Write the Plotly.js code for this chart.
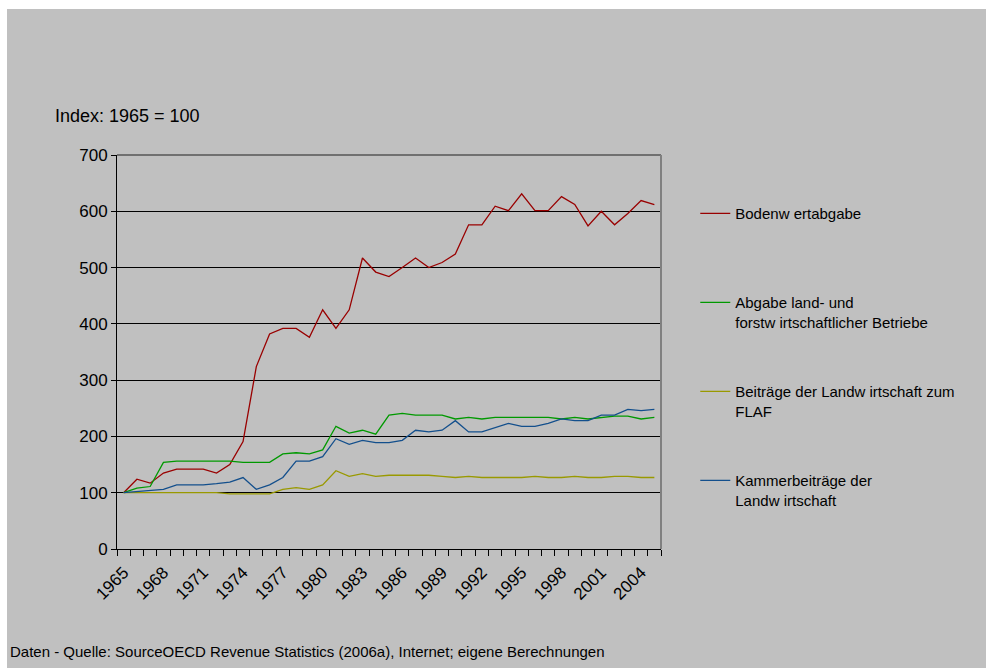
<!DOCTYPE html>
<html>
<head>
<meta charset="utf-8">
<script src="https://cdn.plot.ly/plotly-3.0.1.min.js"></script>
<style>
html,body{margin:0;padding:0;background:#ffffff;width:986px;height:668px;overflow:hidden;}
#chart{position:absolute;left:7px;top:9px;width:979px;height:659px;}
</style>
</head>
<body>
<div id="chart"></div>
<script>
const years = [];
for (let y = 1965; y <= 2005; y++) years.push(y);

const tickYears = [1965, 1968, 1971, 1974, 1977, 1980, 1983, 1986, 1989, 1992, 1995, 1998, 2001, 2004];
const tickLabels = ["1965","1968","1971","1974","1977","1980","1983","1986","1989","1992","1995","1998","2001","2004"];

const bodenwertabgabe = [100,124,117,135,142,142,142,135,150,191,324,382,392,392,376,425,392,425,517,492,
  484,500,517,500,509,524,576,576,609,601,631,601,601,626,612,574,600,576,596,619,612];
const abgabeLuF = [100,108,111,154,156,156,156,156,156,154,154,154,169,171,169,176,218,206,211,204,
  238,241,238,238,238,231,234,231,234,234,234,234,234,231,234,231,234,236,236,231,234];
const beitraegeFLAF = [100,100,100,100,100,100,100,100,98,98,98,98,106,109,106,114,139,129,134,129,
  131,131,131,131,129,127,129,127,127,127,127,129,127,127,129,127,127,129,129,127,127];
const kammerbeitraege = [100,102,104,106,114,114,114,116,119,127,106,114,127,156,156,164,196,186,193,189,
  189,193,211,208,211,228,208,208,216,223,218,218,223,231,228,228,238,238,248,246,248];

const names = ["Bodenw ertabgabe<br> ", "Abgabe land- und<br>forstw irtschaftlicher Betriebe",
  "Beiträge der Landw irtschaft zum<br>FLAF", "Kammerbeiträge der<br>Landw irtschaft"];
const series = [bodenwertabgabe, abgabeLuF, beitraegeFLAF, kammerbeitraege];
const colors = ["#990000", "#009900", "#999900", "#134f8c"];

const traces = series.map((s, i) => ({
  x: years, y: s, type: "scatter", mode: "lines", name: names[i],
  legendgroup: "g" + i,
  line: {color: colors[i], width: 1.3}
}));

const layout = {
  width: 979, height: 659,
  paper_bgcolor: "#c0c0c0", plot_bgcolor: "#c0c0c0",
  margin: {l: 110, r: 325, t: 146, b: 119},
  font: {family: "Liberation Sans, Arial, sans-serif", color: "#000000", size: 17},
  showlegend: true,
  legend: {
    x: 1.063, xanchor: "left", y: 0.893, yanchor: "top",
    bgcolor: "rgba(0,0,0,0)", font: {size: 15, color: "#000000"},
    tracegroupgap: 47, valign: "top"
  },
  xaxis: {
    range: [1964.5, 2005.5], tickmode: "array", tickvals: tickYears, ticktext: tickLabels,
    tickangle: -45, ticks: "", showgrid: false, zeroline: false,
    showline: true, linecolor: "#000000", linewidth: 1,
    tickfont: {size: 17}, ticklabelstandoff: 6,
    minor: {tick0: 1964.5, dtick: 1, ticks: "outside", ticklen: 6, tickcolor: "#000000", showgrid: false}
  },
  yaxis: {
    range: [0, 700], dtick: 100, ticks: "outside", ticklen: 5, tickcolor: "#000000",
    showgrid: true, gridcolor: "#000000", gridwidth: 1, zeroline: false,
    showline: true, linecolor: "#000000", linewidth: 1, tickfont: {size: 17}
  },
  shapes: [
    {type: "line", xref: "paper", yref: "paper", x0: 0, x1: 1, y0: 1, y1: 1, line: {color: "#707070", width: 2}},
    {type: "line", xref: "paper", yref: "paper", x0: 1, x1: 1, y0: 0, y1: 1, line: {color: "#808080", width: 2}}
  ],
  annotations: [
    {text: "Index: 1965 = 100", xref: "paper", yref: "paper", x: -0.117, y: 1.1, xanchor: "left", yanchor: "middle",
      showarrow: false, font: {size: 18}},
    {text: "Daten - Quelle: SourceOECD Revenue Statistics (2006a), Internet; eigene Berechnungen",
      xref: "paper", yref: "paper", x: -0.2, y: -0.259, xanchor: "left", yanchor: "middle",
      showarrow: false, font: {size: 15}}
  ]
};

Plotly.newPlot("chart", traces, layout, {displayModeBar: false, staticPlot: true});
</script>
</body>
</html>
